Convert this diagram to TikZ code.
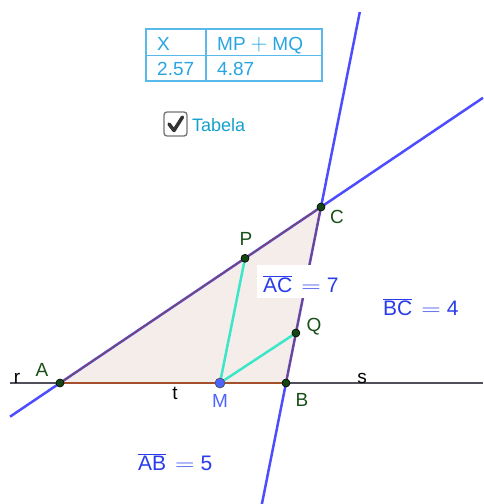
\documentclass[tikz,border=0pt]{standalone}
\usepackage{graphicx}
\usepackage{fontspec}
\setmainfont{Liberation Sans}
\definecolor{lineblue}{RGB}{77,77,255}
\definecolor{axisgray}{RGB}{80,80,90}
\definecolor{segbrown}{RGB}{165,80,45}
\definecolor{segpurple}{RGB}{130,70,80}
\definecolor{turq}{RGB}{60,230,200}
\definecolor{trifill}{RGB}{245,237,234}
\definecolor{ptgreen}{RGB}{20,70,20}
\definecolor{lblgreen}{RGB}{25,80,25}
\definecolor{mblue}{RGB}{77,100,255}
\definecolor{valblue}{RGB}{40,60,235}
\definecolor{tabblue}{RGB}{40,165,225}
\definecolor{tabline}{RGB}{90,185,235}
\definecolor{chkblue}{RGB}{20,160,205}
\newcommand{\wideeq}{\scalebox{1.3}[1]{$=$}}
\newcommand{\wideplus}{\scalebox{1.35}{$+$}}
\begin{document}
\begin{tikzpicture}[x=1pt,y=-1pt,
  txt/.style={font=\fontsize{19}{22}\selectfont,inner sep=0pt},
  val/.style={font=\fontsize{21}{24}\selectfont,inner sep=0pt,text=valblue,anchor=base west},
  lbl/.style={txt,text=lblgreen},
  dot/.style={circle,fill=ptgreen,draw=black,line width=0.6pt,inner sep=0pt,minimum size=8pt}]
\useasboundingbox (0,0) rectangle (483,504);

\coordinate (A) at (60,383);
\coordinate (B) at (286,383);
\coordinate (C) at (321,207);
\coordinate (M) at (220,383);
\coordinate (P) at (245,258.3);
\coordinate (Q) at (295.9,333);
\coordinate (rEnd) at (10,383);
\coordinate (sEnd) at (483,383);
\coordinate (acLow) at (10,416.7);
\coordinate (acHigh) at (483,97.8);
\coordinate (bcLow) at (261.9,504);
\coordinate (bcHigh) at (359.8,12);

\fill[trifill] (A) -- (B) -- (C) -- cycle;
\draw[axisgray,line width=1.4pt] (rEnd) -- (sEnd);
\draw[lineblue,line width=2.5pt] (acLow) -- (acHigh);
\draw[lineblue,line width=2.5pt] (bcLow) -- (bcHigh);
\draw[segbrown,line width=1.4pt] (A) -- (B);
\draw[segpurple,line width=1.2pt] (A) -- (C) -- (B);
\draw[turq,line width=2.5pt] (P) -- (M) -- (Q);

% labels of the sides
\fill[white] (257,265) rectangle (343,298);
\node[val] (acVal) at (263,292) {$\overline{\mbox{AC}}$\hspace{9pt}\wideeq\hspace{6pt}7};
\node[val] (bcVal) at (383,315) {$\overline{\mbox{BC}}$\hspace{9pt}\wideeq\hspace{6pt}4};
\node[val] (abVal) at (138,470) {$\overline{\mbox{AB}}$\hspace{9pt}\wideeq\hspace{6pt}5};

\node[dot] (dotA) at (A) {};
\node[dot] (dotB) at (B) {};
\node[dot] (dotC) at (C) {};
\node[dot] (dotP) at (P) {};
\node[dot] (dotQ) at (Q) {};
\node[dot,fill=mblue,draw=black!70,minimum size=10pt] (dotM) at (M) {};

\node[lbl] (labA) at (42,370) {A};
\node[lbl] (labB) at (302,400) {B};
\node[lbl] (labC) at (337,217) {C};
\node[lbl] (labP) at (246,239) {P};
\node[lbl] (labQ) at (314,327) {Q};
\node[txt,text=mblue] (labM) at (220,401) {M};
\node[txt] (labr) at (17,378) {r};
\node[txt] (labs) at (362,378) {s};
\node[txt] (labt) at (175,393) {t};

% table
\draw[tabline,line width=1.2pt] (146,29) rectangle (322,81);
\draw[tabline,line width=1.2pt] (146,55.5) -- (322,55.5);
\draw[tabline,line width=1.2pt] (206,29) -- (206,81);
\node[txt,text=tabblue,anchor=base west] (headX) at (157,50) {X};
\node[txt,text=tabblue,anchor=base west] (headSum) at (217,50) {MP\hspace{5pt}\wideplus\hspace{5pt}MQ};
\node[txt,text=tabblue,anchor=base west] (valX) at (157,75) {2.57};
\node[txt,text=tabblue,anchor=base west] (valSum) at (217,75) {4.87};

% checkbox
\draw[black!55,line width=1.3pt,rounded corners=3pt] (164,112) rectangle (187,136);
\draw[black!80,line width=3.5pt,line cap=round,line join=round] (169,124) -- (174,130.5) -- (182.5,117);
\node[txt,text=chkblue,anchor=base west,font=\fontsize{18}{22}\selectfont] (tabela) at (192,131) {Tabela};
\end{tikzpicture}
\end{document}
